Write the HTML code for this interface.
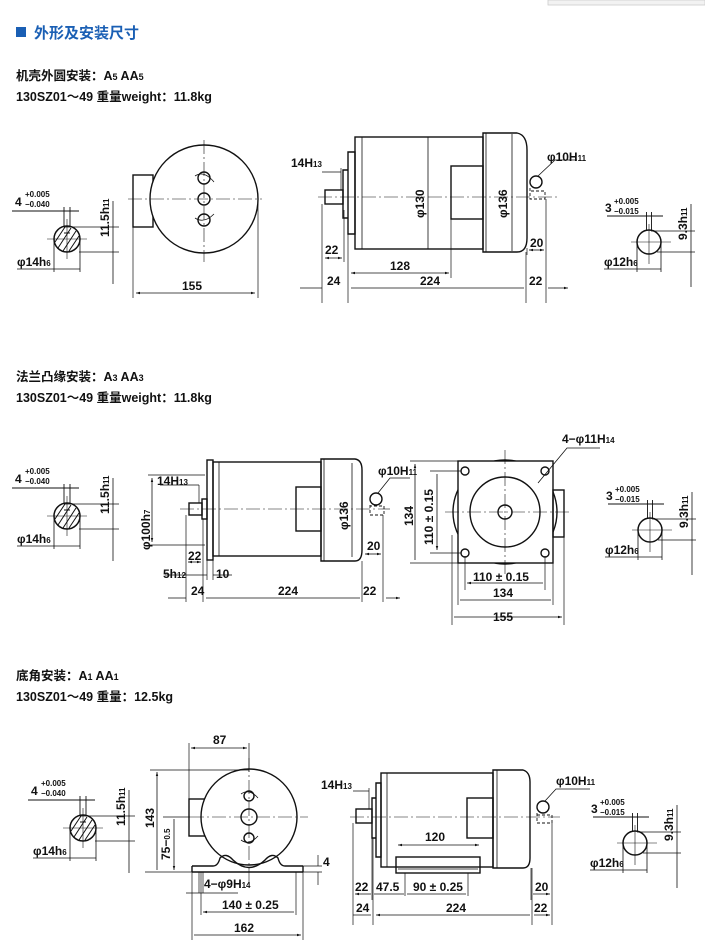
<!DOCTYPE html>
<html><head><meta charset="utf-8"><style>
html,body{margin:0;padding:0;background:#fff;width:705px;height:948px;overflow:hidden}
svg{display:block}
text{font-family:"Liberation Sans","Noto Sans CJK SC",sans-serif;fill:#111}
.d{font-size:12px;font-weight:bold}
.s{font-size:8px;font-weight:bold}
.h{font-size:12.5px;font-weight:bold}
</style></head><body>
<svg width="705" height="948" viewBox="0 0 705 948" xmlns="http://www.w3.org/2000/svg">
<defs>
<marker id="a" viewBox="0 0 10 10" refX="10" refY="5" markerWidth="7" markerHeight="5" orient="auto-start-reverse"><path d="M0,2 L10,5 L0,8z" fill="#111"/></marker>
<g id="shaftL">
  <circle cx="0" cy="0" r="13" fill="none" stroke="#111" stroke-width="1.5"/>
  <path d="M-9,9 L4,-11 M-4,12 L9,-8 M-12,3 L-2,-12 M2,12 L12,-3" stroke="#111" stroke-width="1"/>
  <path d="M-3,-12 V-32 M3,-12 V-32 M-55,-28 H12 M-3,-6 H3" stroke="#111" stroke-width="0.9" fill="none"/>
  <path d="M-20,0 H20 M0,-20 V20" stroke="#111" stroke-width="0.6"/>
  <path d="M-3,-12 H52 M12,13 H52 M46,-38 V45" stroke="#111" stroke-width="0.8" fill="none"/>
  <path d="M-13,0 V33 M13,0 V33 M-50,30 H-13 M-13,30 H13" stroke="#111" stroke-width="0.8" fill="none"/>
  <text class="d" x="-52" y="-33" font-size="14">4</text>
  <text class="s" x="-42" y="-42">+0.005</text>
  <text class="s" x="-42" y="-32">−0.040</text>
  <text class="d" x="-50" y="27">φ14h<tspan font-size="8">6</tspan></text>
  <text class="d" transform="translate(42,-2) rotate(-90)">11.5h<tspan font-size="8">11</tspan></text>
</g>
<g id="shaftR">
  <circle cx="0" cy="0" r="12" fill="none" stroke="#111" stroke-width="1.5"/>
  <path d="M-2.5,-11 V-30 M2.5,-11 V-30 M-42,-26 H14" stroke="#111" stroke-width="0.9" fill="none"/>
  <path d="M-18,0 H22 M0,-18 V22" stroke="#111" stroke-width="0.6"/>
  <path d="M2,-11 H46 M8,10 H46 M42,-38 V45" stroke="#111" stroke-width="0.8" fill="none"/>
  <path d="M-12,0 V30 M12,0 V30 M-45,27 H-12 M-12,27 H12" stroke="#111" stroke-width="0.8" fill="none"/>
  <text class="d" x="-44" y="-30" font-size="14">3</text>
  <text class="s" x="-35" y="-38">+0.005</text>
  <text class="s" x="-35" y="-28">−0.015</text>
  <text class="d" x="-45" y="24">φ12h<tspan font-size="8">6</tspan></text>
  <text class="d" transform="translate(38,-2) rotate(-90)">9.3h<tspan font-size="8">11</tspan></text>
</g>
</defs>

<!-- header -->
<rect x="548" y="0" width="157" height="5" fill="#f2f2f2" stroke="#ccc" stroke-width="0.8"/>
<rect x="16" y="27" width="10" height="10" fill="#1a5fb4"/>
<text x="34" y="38" font-size="15" font-weight="bold" style="fill:#1a5fb4">外形及安装尺寸</text>
<text class="h" x="16" y="80">机壳外圆安装：A<tspan font-size="9">5</tspan>  AA<tspan font-size="9">5</tspan></text>
<text class="h" x="16" y="101">130SZ01～49  重量weight：11.8kg</text>

<g stroke="#111" fill="none" stroke-width="1.4">
<!-- ===== section 1 ===== -->
<rect x="133" y="175" width="20" height="52"/>
<circle cx="204" cy="199" r="54" fill="#fff"/>
<circle cx="204" cy="178" r="6"/><circle cx="204" cy="199" r="6"/><circle cx="204" cy="220" r="6"/>
<path d="M195,176 Q204,170 214,182 M195,218 Q204,224 214,214" stroke-width="0.8"/>
<path d="M128,199 H262 M204,140 V262" stroke-width="0.6" stroke-dasharray="14,3,2,3"/>
<path d="M133,227 V298 M258,199 V298" stroke-width="0.7"/>
<path d="M136,293 H255" stroke-width="0.8" marker-start="url(#a)" marker-end="url(#a)"/>

<!-- side view 1 -->
<rect x="355" y="137" width="128" height="112"/>
<path d="M362,137 V249" stroke-width="0.8"/>
<path d="M483,133 H517 Q527,135 527,150 V238 Q527,252 517,252 H483 Z"/>
<path d="M486,133 V252" stroke-width="0.8"/>
<path d="M348,152 H355 V234 H348 Z M343,170 H348 V218 H343 Z"/>
<rect x="325" y="190" width="18" height="14"/>
<rect x="451" y="166" width="32" height="53"/>
<path d="M318,197 H560" stroke-width="0.6" stroke-dasharray="14,3,2,3"/>
<path d="M428,137 V249 M512,134 V251" stroke-width="0.8"/>
<circle cx="536" cy="182" r="6"/>
<path d="M530,188 V199 H545 V191 H530" stroke-width="0.9" stroke-dasharray="3,2"/>
<path d="M538,176 L555,160 H577" stroke-width="0.8"/>
<path d="M322,204 V303 M344,210 V262 M348,234 V303 M451,219 V278 M526,252 V303 M546,199 V303 M527,248 V255" stroke-width="0.7"/>
<path d="M322,172 H341 M341,168 V190" stroke-width="0.7"/>
<path d="M325,258 H342" stroke-width="0.8" marker-start="url(#a)" marker-end="url(#a)"/>
<path d="M351,273 H449" stroke-width="0.8" marker-start="url(#a)" marker-end="url(#a)"/>
<path d="M300,288 H322 M351,288 H524 M548,288 H568" stroke-width="0.8" marker-end="url(#a)"/>
<path d="M529,250 H544" stroke-width="0.8" marker-start="url(#a)" marker-end="url(#a)"/>

<!-- ===== section 2 ===== -->
<rect x="207" y="460" width="6" height="100"/>
<rect x="213" y="462" width="108" height="94"/>
<path d="M219,462 V556" stroke-width="0.8"/>
<path d="M321,459 H355 Q362,460 362,470 V550 Q362,561 355,561 H321 Z"/>
<path d="M324,459 V561" stroke-width="0.8"/>
<rect x="202" y="499" width="5" height="20"/>
<rect x="189" y="503" width="13" height="12"/>
<rect x="296" y="487" width="25" height="44"/>
<path d="M180,509 H390" stroke-width="0.6" stroke-dasharray="14,3,2,3"/>
<path d="M352,463 V557" stroke-width="0.8"/>
<circle cx="376" cy="499" r="6"/>
<path d="M370,505 V515 H384 V506 H370" stroke-width="0.9" stroke-dasharray="3,2"/>
<path d="M378,493 L390,478 H410" stroke-width="0.8"/>
<path d="M148,475 H205 M148,545 H205" stroke-width="0.7"/>
<path d="M152,478 V542" stroke-width="0.8" marker-start="url(#a)" marker-end="url(#a)"/>
<path d="M186,515 V602 M203,519 V602 M207,560 V580 M213,560 V580 M362,561 V602 M383,515 V602" stroke-width="0.7"/>
<path d="M160,485 H199 M199,485 V503" stroke-width="0.7"/>
<path d="M188,562 H201" stroke-width="0.8" marker-start="url(#a)" marker-end="url(#a)"/>
<path d="M165,575 H207 M213,575 H232" stroke-width="0.8"/>
<path d="M168,598 H186 M206,598 H360 M386,598 H400" stroke-width="0.8" marker-end="url(#a)"/>
<path d="M365,554 H381" stroke-width="0.8" marker-start="url(#a)" marker-end="url(#a)"/>

<!-- front square -->
<circle cx="505" cy="512" r="52"/>
<rect x="458" y="461" width="95" height="102" fill="#fff"/>
<circle cx="505" cy="512" r="35"/>
<circle cx="505" cy="512" r="7"/>
<circle cx="465" cy="471" r="4"/><circle cx="545" cy="471" r="4"/><circle cx="465" cy="553" r="4"/><circle cx="545" cy="553" r="4"/>
<rect x="553" y="490" width="11" height="47"/>
<path d="M445,512 H572 M505,450 V575" stroke-width="0.6" stroke-dasharray="14,3,2,3"/>
<path d="M538,483 L567,448 H600" stroke-width="0.8"/>
<path d="M410,461 H458 M430,471 H461 M430,553 H461 M410,563 H458" stroke-width="0.7"/>
<path d="M415,464 V560 M437,474 V550" stroke-width="0.8" marker-start="url(#a)" marker-end="url(#a)"/>
<path d="M452,535 V625 M458,563 V605 M465,556 V590 M545,556 V590 M553,563 V605 M564,537 V625" stroke-width="0.7"/>
<path d="M467,583 H543 M460,600 H551 M454,617 H562" stroke-width="0.8" marker-start="url(#a)" marker-end="url(#a)"/>

<!-- ===== section 3 ===== -->
<rect x="189" y="799" width="16" height="37"/>
<circle cx="249" cy="817" r="48" fill="#fff"/>
<circle cx="249" cy="796" r="5"/><circle cx="249" cy="817" r="8"/><circle cx="249" cy="838" r="5"/>
<path d="M241,794 Q249,788 258,798 M241,840 Q249,846 258,836" stroke-width="0.8"/>
<path d="M192,872 H303 M192,866 H213 Q218,866 220,858 Q226,852 233,860 Q249,875 265,860 Q272,852 278,858 Q280,866 285,866 H303 M192,866 V872 M303,866 V872" />
<path d="M190,817 H308 M249,758 V882" stroke-width="0.6" stroke-dasharray="14,3,2,3"/>
<path d="M189,743 V800 M249,743 V772" stroke-width="0.7"/>
<path d="M191,748 H247" stroke-width="0.8" marker-start="url(#a)" marker-end="url(#a)"/>
<path d="M150,770 H249 M163,817 H190 M145,872 H192" stroke-width="0.7"/>
<path d="M157,772 V870 M174,819 V870" stroke-width="0.8" marker-start="url(#a)" marker-end="url(#a)"/>
<path d="M303,866 H322 M303,872 H322 M318,855 V866 M318,872 V885" stroke-width="0.7"/>
<path d="M192,872 V940 M199,872 V893 M203,872 V893 M201,872 V915 M296,872 V915 M303,872 V940 M186,893 H238" stroke-width="0.7"/>
<path d="M203,912 H294 M194,935 H301" stroke-width="0.8" marker-start="url(#a)" marker-end="url(#a)"/>

<!-- side view 3 -->
<rect x="381" y="773" width="112" height="94"/>
<path d="M387,773 V867" stroke-width="0.8"/>
<path d="M493,770 H523 Q530,772 530,782 V858 Q530,868 523,868 H493 Z"/>
<path d="M497,770 V868" stroke-width="0.8"/>
<path d="M376,783 H381 V857 H376 Z M372,798 H376 V838 H372 Z"/>
<rect x="356" y="809" width="16" height="14"/>
<rect x="467" y="798" width="26" height="40"/>
<rect x="396" y="857" width="84" height="16"/>
<path d="M398,869 H478" stroke-width="0.7"/>
<path d="M350,817 H560" stroke-width="0.6" stroke-dasharray="14,3,2,3"/>
<circle cx="543" cy="807" r="6"/>
<path d="M537,813 V823 H552 V815 H537" stroke-width="0.9" stroke-dasharray="3,2"/>
<path d="M545,801 L556,789 H590" stroke-width="0.8"/>
<path d="M353,823 V925 M372,830 V900 M373,838 V925 M405,873 V896 M468,873 V896 M532,868 V925 M552,823 V925 M531,868 V900" stroke-width="0.7"/>
<path d="M353,791 H369 M369,788 V809" stroke-width="0.7"/>
<path d="M398,845 H479" stroke-width="0.8" marker-start="url(#a)" marker-end="url(#a)"/>
<path d="M355,894 H371 M374,894 H404 M407,894 H466 M533,894 H550" stroke-width="0.8" marker-start="url(#a)" marker-end="url(#a)"/>
<path d="M353,915 H371" stroke-width="0.8"/>
<path d="M376,915 H530 M534,915 H550" stroke-width="0.8" marker-start="url(#a)" marker-end="url(#a)"/>
</g>

<!-- shafts -->
<use href="#shaftL" x="67" y="239"/>
<use href="#shaftR" x="649" y="242"/>
<use href="#shaftL" x="67" y="516"/>
<use href="#shaftR" x="650" y="530"/>
<use href="#shaftL" x="83" y="828"/>
<use href="#shaftR" x="635" y="843"/>

<!-- section1 labels -->
<text class="d" x="182" y="290">155</text>
<text class="d" x="291" y="167">14H<tspan font-size="8">13</tspan></text>
<text class="d" x="325" y="254">22</text>
<text class="d" x="390" y="270">128</text>
<text class="d" x="327" y="285">24</text>
<text class="d" x="420" y="285">224</text>
<text class="d" x="529" y="285">22</text>
<text class="d" x="530" y="247">20</text>
<text class="d" x="547" y="161">φ10H<tspan font-size="8">11</tspan></text>
<text class="d" transform="translate(424,218) rotate(-90)">φ130</text>
<text class="d" transform="translate(507,218) rotate(-90)">φ136</text>

<!-- section2 labels -->
<text class="h" x="16" y="381">法兰凸缘安装：A<tspan font-size="9">3</tspan>  AA<tspan font-size="9">3</tspan></text>
<text class="h" x="16" y="402">130SZ01～49   重量weight：11.8kg</text>
<text class="d" x="157" y="485">14H<tspan font-size="8">13</tspan></text>
<text class="d" transform="translate(150,550) rotate(-90)">φ100h<tspan font-size="8">7</tspan></text>
<text class="d" x="188" y="560">22</text>
<text class="d" x="163" y="578">5h<tspan font-size="8">12</tspan></text>
<text class="d" x="216" y="578">10</text>
<text class="d" x="191" y="595">24</text>
<text class="d" x="278" y="595">224</text>
<text class="d" x="363" y="595">22</text>
<text class="d" x="367" y="550">20</text>
<text class="d" x="378" y="475">φ10H<tspan font-size="8">11</tspan></text>
<text class="d" transform="translate(348,530) rotate(-90)">φ136</text>
<text class="d" x="562" y="443">4−φ11H<tspan font-size="8">14</tspan></text>
<text class="d" transform="translate(413,526) rotate(-90)">134</text>
<text class="d" transform="translate(433,545) rotate(-90)">110 ± 0.15</text>
<text class="d" x="473" y="581">110 ± 0.15</text>
<text class="d" x="493" y="597">134</text>
<text class="d" x="493" y="621">155</text>

<!-- section3 labels -->
<text class="h" x="16" y="680">底角安装：A<tspan font-size="9">1</tspan>  AA<tspan font-size="9">1</tspan></text>
<text class="h" x="16" y="701">130SZ01～49   重量：12.5kg</text>
<text class="d" x="213" y="744">87</text>
<text class="d" transform="translate(154,828) rotate(-90)">143</text>
<text class="d" transform="translate(170,860) rotate(-90)">75−<tspan font-size="8">0.5</tspan></text>
<text class="d" x="323" y="866">4</text>
<text class="d" x="204" y="888">4−φ9H<tspan font-size="8">14</tspan></text>
<text class="d" x="222" y="909">140 ± 0.25</text>
<text class="d" x="234" y="932">162</text>
<text class="d" x="321" y="789">14H<tspan font-size="8">13</tspan></text>
<text class="d" x="425" y="841">120</text>
<text class="d" x="355" y="891">22</text>
<text class="d" x="376" y="891">47.5</text>
<text class="d" x="413" y="891">90 ± 0.25</text>
<text class="d" x="535" y="891">20</text>
<text class="d" x="356" y="912">24</text>
<text class="d" x="446" y="912">224</text>
<text class="d" x="534" y="912">22</text>
<text class="d" x="556" y="785">φ10H<tspan font-size="8">11</tspan></text>
</svg>
</body></html>
